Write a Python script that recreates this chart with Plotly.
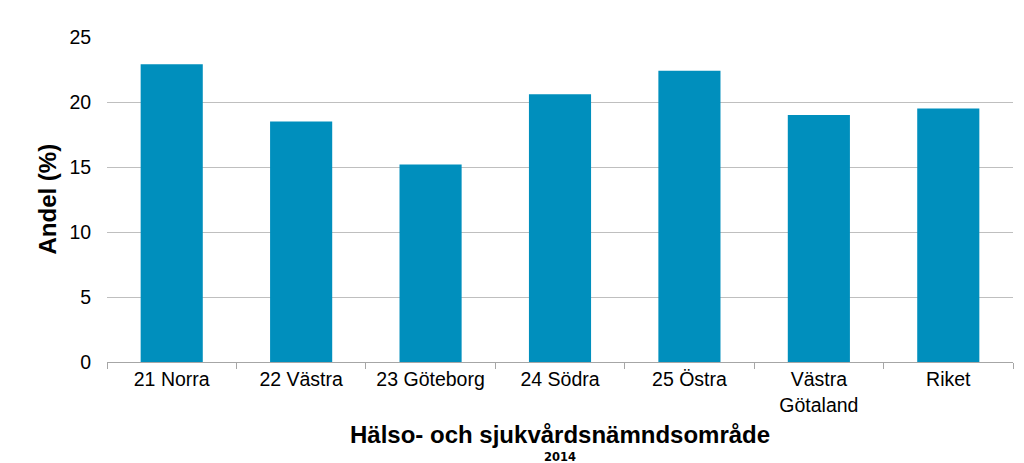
import plotly.graph_objects as go

categories = ["21 Norra", "22 Västra", "23 Göteborg", "24 Södra", "25 Östra", "Västra<br>Götaland", "Riket"]
values = [22.9, 18.5, 15.2, 20.6, 22.4, 19.0, 19.5]
y_ticks = [0, 5, 10, 15, 20, 25]

fig = go.Figure(go.Bar(
    x=categories, y=values,
    marker=dict(color="#008FBD", line=dict(width=0)),
    width=0.48,
))

fig.update_layout(
    width=1008, height=455,
    margin=dict(l=99, r=3, t=29, b=101),
    paper_bgcolor="white", plot_bgcolor="white",
    font=dict(family="Liberation Sans, Arial, sans-serif", size=19.5, color="#000000"),
    showlegend=False,
    xaxis=dict(
        showgrid=False, showline=True, linecolor="#A6A6A6", linewidth=1,
        ticks="outside", tickson="boundaries", ticklen=6, tickcolor="#A6A6A6",
        tickfont=dict(size=19.5), range=[-0.5, 6.5],
    ),
    yaxis=dict(
        range=[0, 25], tickvals=y_ticks, showgrid=True, gridcolor="#BFBFBF", gridwidth=1,
        zeroline=False, showline=False, ticks="outside", ticklen=11,
        tickcolor="rgba(0,0,0,0)", tickfont=dict(size=19.5),
    ),
    annotations=[
        dict(text="<b>Andel (%)</b>", xref="paper", yref="paper", x=0, y=0.5,
             xanchor="center", yanchor="middle",
             xshift=-60, textangle=-90, showarrow=False, font=dict(size=24)),
        dict(text="<b>Hälso- och sjukvårdsnämndsområde</b>", xref="paper", yref="paper",
             x=0.5, y=0, xanchor="center", yanchor="middle",
             yshift=-72, showarrow=False, font=dict(size=24)),
        dict(text="<b>2014</b>", xref="paper", yref="paper",
             x=0.5, y=0, xanchor="center", yanchor="middle",
             yshift=-95, showarrow=False,
             font=dict(size=11.5, family="DejaVu Sans, Verdana, sans-serif")),
    ],
)

fig.write_html("out.html")
